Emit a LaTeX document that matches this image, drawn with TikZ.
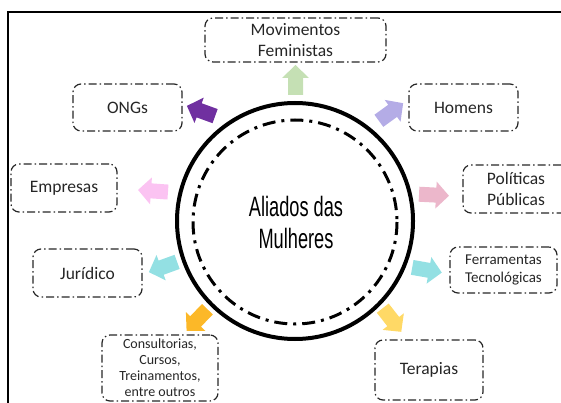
\documentclass[tikz,border=0pt]{standalone}
\usepackage{fontspec}
\setmainfont{Carlito}
\newfontfamily\hubfont{Liberation Sans}
\definecolor{cgreen}{HTML}{C5E0B4}
\definecolor{cpurple}{HTML}{7030A0}
\definecolor{clav}{HTML}{B4ACE6}
\definecolor{cpinkL}{HTML}{FBC3F2}
\definecolor{cpinkR}{HTML}{ECB7CB}
\definecolor{ccyan}{HTML}{93E0E3}
\definecolor{corange}{HTML}{FCB828}
\definecolor{cyellow}{HTML}{FFD966}
\newcommand{\blockarr}[4]{%
  \begin{scope}[shift={(#1,#2)},rotate=#3]
    \fill[#4] (-15,-7.5) -- (2,-7.5) -- (2,-13.5) -- (15,0) -- (2,13.5) -- (2,7.5) -- (-15,7.5) -- cycle;
  \end{scope}}
\begin{document}
\begin{tikzpicture}[x=1pt,y=-1pt,
  allybox/.style={draw=black!85, line width=1.2pt, rounded corners=8pt,
    dash pattern=on 8pt off 3pt on 1.5pt off 3pt, align=center, inner sep=0pt,
    font=\fontsize{17.5}{21}\selectfont, text=black!85},
  smallbox/.style={allybox, font=\fontsize{15}{18.5}\selectfont},
  tinybox/.style={allybox, font=\fontsize{14}{16}\selectfont}]
\useasboundingbox (0,0) rectangle (561,403);
% frame
\draw[line width=1.5pt] (8,403) -- (8,12) -- (561,12);
% circles
\draw[line width=4pt] (295,221) circle[radius=118];
\draw[line width=3pt, dash pattern=on 13pt off 6pt on 3pt off 6pt] (295,222) circle[radius=102];
\node[align=center, font=\hubfont\fontsize{28}{32}\selectfont] (hub) at (296,222)
  {\scalebox{0.65}[1]{Aliados das}\\\scalebox{0.65}[1]{Mulheres}};
% boxes
\node[allybox, minimum width=181, minimum height=44] (mov) at (295.5,40) {Movimentos\\Feministas};
\node[allybox, minimum width=109, minimum height=47] (ongs) at (127.5,107.5) {ONGs};
\node[allybox, minimum width=109, minimum height=47] (hom) at (463.5,107.5) {Homens};
\node[allybox, minimum width=106, minimum height=48] (emp) at (64,188) {Empresas};
\node[allybox, minimum width=106, minimum height=48] (pol) at (516,189) {Políticas\\Públicas};
\node[allybox, minimum width=109, minimum height=48] (jur) at (87.5,273) {Jurídico};
\node[smallbox, minimum width=107, minimum height=46] (fer) at (503.5,270) {Ferramentas\\Tecnológicas};
\node[tinybox, minimum width=116, minimum height=66] (con) at (160,368) {Consultorias,\\Cursos,\\Treinamentos,\\entre outros};
\node[allybox, minimum width=108, minimum height=60] (ter) at (429,370) {Terapias};
% block arrows
\blockarr{295.5}{80}{90}{cgreen}
\blockarr{201}{111}{160}{cpurple}
\blockarr{391}{112}{36}{clav}
\blockarr{153}{191}{176}{cpinkL}
\blockarr{434}{195}{-3}{cpinkR}
\blockarr{163}{267}{200}{ccyan}
\blockarr{427}{270}{-10}{ccyan}
\blockarr{197}{320}{226}{corange}
\blockarr{392}{320}{308}{cyellow}
\end{tikzpicture}
\end{document}
